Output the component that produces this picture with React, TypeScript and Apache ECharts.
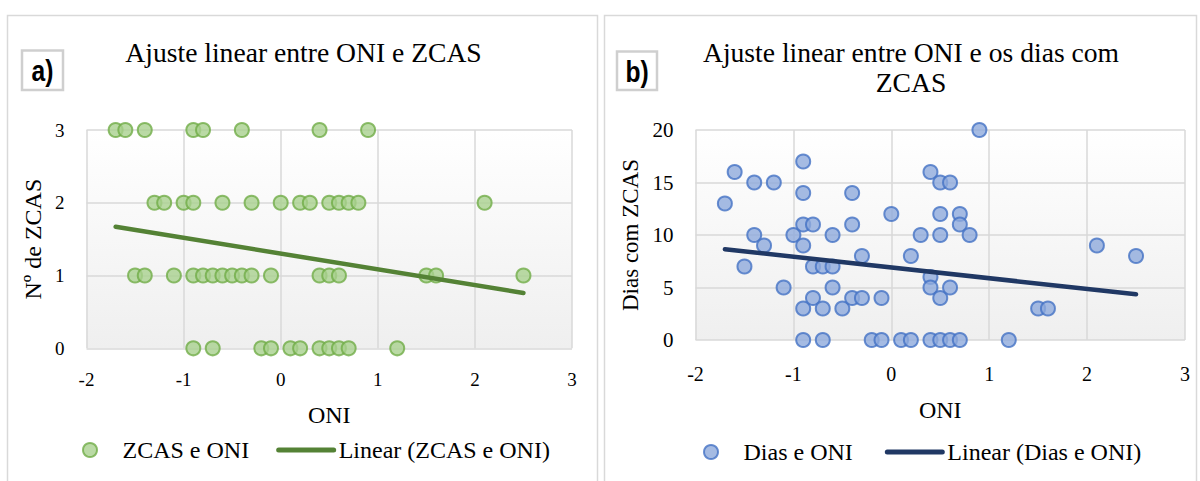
import React, { useEffect, useRef } from "react";
import * as echarts from "echarts";

// Panel a) — ONI vs number of ZCAS events
const oniA = [
  -1.7, -1.6, -1.4, -0.9, -0.8, -0.4, 0.4, 0.9,
  -1.3, -1.2, -1.0, -0.9, -0.6, -0.3, 0.0, 0.2, 0.3, 0.5, 0.6, 0.7, 0.8, 2.1,
  -1.5, -1.4, -1.1, -0.9, -0.8, -0.7, -0.6, -0.5, -0.4, -0.3, -0.1, 0.4, 0.5, 0.6, 1.5, 1.6, 2.5,
  -0.9, -0.7, -0.2, -0.1, 0.1, 0.2, 0.4, 0.5, 0.6, 0.7, 1.2,
];
const zcasA = [
  3, 3, 3, 3, 3, 3, 3, 3,
  2, 2, 2, 2, 2, 2, 2, 2, 2, 2, 2, 2, 2, 2,
  1, 1, 1, 1, 1, 1, 1, 1, 1, 1, 1, 1, 1, 1, 1, 1, 1,
  0, 0, 0, 0, 0, 0, 0, 0, 0, 0, 0,
];
// Trend line a) endpoints (read from picture)
const trendAX = [-1.7, 2.5];
const trendAY = [1.67, 0.76];

// Panel b) — ONI vs days with ZCAS
const oniB = [
  -1.7, -1.6, -1.5, -1.4, -1.4, -1.3, -1.2, -1.1, -1.0,
  -0.9, -0.9, -0.9, -0.9, -0.9, -0.9,
  -0.8, -0.8, -0.8, -0.7, -0.7, -0.7, -0.6, -0.6, -0.6, -0.5,
  -0.4, -0.4, -0.4, -0.3, -0.3, -0.2, -0.1, -0.1, 0.0, 0.1, 0.2, 0.2, 0.3,
  0.4, 0.4, 0.4, 0.4, 0.5, 0.5, 0.5, 0.5, 0.5, 0.6, 0.6, 0.6,
  0.7, 0.7, 0.7, 0.8, 0.9, 1.2, 1.5, 1.6, 2.1, 2.5,
];
const diasB = [
  13, 16, 7, 15, 10, 9, 15, 5, 10,
  17, 14, 11, 9, 3, 0,
  11, 7, 4, 7, 3, 0, 10, 7, 5, 3,
  14, 11, 4, 8, 4, 0, 4, 0, 12, 0, 8, 0, 10,
  16, 6, 5, 0, 15, 12, 10, 4, 0, 15, 5, 0,
  12, 11, 0, 10, 20, 0, 3, 3, 9, 8,
];
const trendBX = [-1.7, 2.5];
const trendBY = [8.65, 4.35];

const xTicksMin = -2;
const xTicksMax = 3;

const SERIF = "Liberation Serif";
const SANS = "Liberation Sans";

export default function App() {
  const ref = useRef<HTMLDivElement>(null);

  useEffect(() => {
    document.body.style.margin = "0";
    if (!ref.current) return;
    const chart = echarts.init(ref.current, undefined, { renderer: "svg" });

    const bg = () =>
      new echarts.graphic.LinearGradient(0, 0, 0, 1, [
        { offset: 0, color: "#ffffff" },
        { offset: 1, color: "#efefef" },
      ]);

    const splitLine = { show: true, lineStyle: { color: "#d9d9d9", width: 1.5 } };

    const xAxisBase = (gridIndex: number, margin: number, nameGap: number, fs: number) => ({
      type: "value",
      gridIndex,
      min: xTicksMin,
      max: xTicksMax,
      interval: 1,
      name: "ONI",
      nameLocation: "middle",
      nameGap,
      nameTextStyle: { fontFamily: SERIF, fontSize: 24, color: "#000" },
      axisLine: { show: false },
      axisTick: { show: false },
      axisLabel: { fontFamily: SERIF, fontSize: fs, color: "#000", margin },
      splitLine,
    });

    const pairs = (xs: number[], ys: number[]) => xs.map((x, i) => [x, ys[i]]);

    chart.setOption({
      animation: false,
      backgroundColor: "#ffffff",
      textStyle: { fontFamily: SERIF },
      title: [
        {
          text: "Ajuste linear entre ONI e ZCAS",
          left: 298.5,
          top: 33,
          textAlign: "center",
          textStyle: { fontFamily: SERIF, fontSize: 27.6, fontWeight: "normal", color: "#000" },
        },
        {
          text: "Ajuste linear entre ONI e os dias com\nZCAS",
          left: 906,
          top: 32,
          textAlign: "center",
          textStyle: {
            fontFamily: SERIF,
            fontSize: 27.6,
            fontWeight: "normal",
            color: "#000",
            lineHeight: 30,
          },
        },
      ],
      grid: [
        {
          left: 86.5,
          top: 130,
          width: 485.5,
          height: 218.3,
          show: true,
          backgroundColor: bg(),
          borderWidth: 0,
        },
        {
          left: 695.5,
          top: 130,
          width: 489.5,
          height: 210,
          show: true,
          backgroundColor: bg(),
          borderWidth: 0,
        },
      ],
      xAxis: [xAxisBase(0, 22, 55, 19), xAxisBase(1, 24, 58, 20)],
      yAxis: [
        {
          type: "value",
          gridIndex: 0,
          min: 0,
          max: 3,
          interval: 1,
          name: "Nº de ZCAS",
          nameLocation: "middle",
          nameGap: 42,
          nameTextStyle: { fontFamily: SERIF, fontSize: 24, color: "#000" },
          axisLine: { show: false },
          axisTick: { show: false },
          axisLabel: { fontFamily: SERIF, fontSize: 19, color: "#000", margin: 22 },
          splitLine,
        },
        {
          type: "value",
          gridIndex: 1,
          min: 0,
          max: 20,
          interval: 5,
          name: "Dias com ZCAS",
          nameLocation: "middle",
          nameGap: 54,
          nameTextStyle: { fontFamily: SERIF, fontSize: 23, color: "#000" },
          axisLine: { show: false },
          axisTick: { show: false },
          axisLabel: { fontFamily: SERIF, fontSize: 21, color: "#000", margin: 22 },
          splitLine,
        },
      ],
      legend: [
        {
          data: [
            { name: "ZCAS e ONI" },
            {
              name: "Linear (ZCAS e ONI)",
              itemStyle: { opacity: 0 },
              lineStyle: { width: 5, cap: "round" },
            },
          ],
          left: 77,
          top: 433,
          itemWidth: 55,
          itemHeight: 14,
          itemGap: 27,
          textStyle: { fontFamily: SERIF, fontSize: 24, color: "#000" },
        },
        {
          data: [
            { name: "Dias e ONI" },
            {
              name: "Linear (Dias e ONI)",
              itemStyle: { opacity: 0 },
              lineStyle: { width: 5, cap: "round" },
            },
          ],
          left: 698,
          top: 435,
          itemWidth: 55,
          itemHeight: 14,
          itemGap: 32,
          textStyle: { fontFamily: SERIF, fontSize: 24, color: "#000" },
        },
      ],
      series: [
        {
          name: "ZCAS e ONI",
          type: "scatter",
          xAxisIndex: 0,
          yAxisIndex: 0,
          symbol: "circle",
          symbolSize: 14,
          itemStyle: { color: "#a9d18e", borderColor: "#70ad47", borderWidth: 2 },
          data: pairs(oniA, zcasA),
          z: 3,
        },
        {
          name: "Linear (ZCAS e ONI)",
          type: "line",
          xAxisIndex: 0,
          yAxisIndex: 0,
          symbol: "none",
          lineStyle: { color: "#548235", width: 4.5, cap: "round" },
          itemStyle: { color: "#548235" },
          data: pairs(trendAX, trendAY),
          z: 4,
        },
        {
          name: "Dias e ONI",
          type: "scatter",
          xAxisIndex: 1,
          yAxisIndex: 1,
          symbol: "circle",
          symbolSize: 14,
          itemStyle: { color: "#8faadc", borderColor: "#4472c4", borderWidth: 2 },
          data: pairs(oniB, diasB),
          z: 3,
        },
        {
          name: "Linear (Dias e ONI)",
          type: "line",
          xAxisIndex: 1,
          yAxisIndex: 1,
          symbol: "none",
          lineStyle: { color: "#203864", width: 4.5, cap: "round" },
          itemStyle: { color: "#203864" },
          data: pairs(trendBX, trendBY),
          z: 4,
        },
      ],
      graphic: [
        {
          type: "rect",
          shape: { x: 7.5, y: 15.5, width: 590, height: 480 },
          style: { fill: "none", stroke: "#d9d9d9", lineWidth: 1.5 },
          silent: true,
          z: -10,
        },
        {
          type: "rect",
          shape: { x: 604.5, y: 15.5, width: 592, height: 480 },
          style: { fill: "none", stroke: "#d9d9d9", lineWidth: 1.5 },
          silent: true,
          z: -10,
        },
        {
          type: "rect",
          shape: { x: 22, y: 50.5, width: 41, height: 39.5 },
          style: { fill: "#ffffff", stroke: "#cfcfcf", lineWidth: 2.5 },
          silent: true,
        },
        {
          type: "text",
          x: 42.5,
          y: 71,
          scaleX: 0.82,
          style: {
            text: "a)",
            fontFamily: SANS,
            fontWeight: "bold",
            fontSize: 30,
            fill: "#000",
            align: "center",
            verticalAlign: "middle",
          },
          silent: true,
        },
        {
          type: "rect",
          shape: { x: 617, y: 51.5, width: 40, height: 38.5 },
          style: { fill: "#ffffff", stroke: "#cfcfcf", lineWidth: 2.5 },
          silent: true,
        },
        {
          type: "text",
          x: 637,
          y: 72,
          scaleX: 0.82,
          style: {
            text: "b)",
            fontFamily: SANS,
            fontWeight: "bold",
            fontSize: 30,
            fill: "#000",
            align: "center",
            verticalAlign: "middle",
          },
          silent: true,
        },
      ],
    });

    return () => chart.dispose();
  }, []);

  return <div ref={ref} style={{ width: 1200, height: 481 }} />;
}
